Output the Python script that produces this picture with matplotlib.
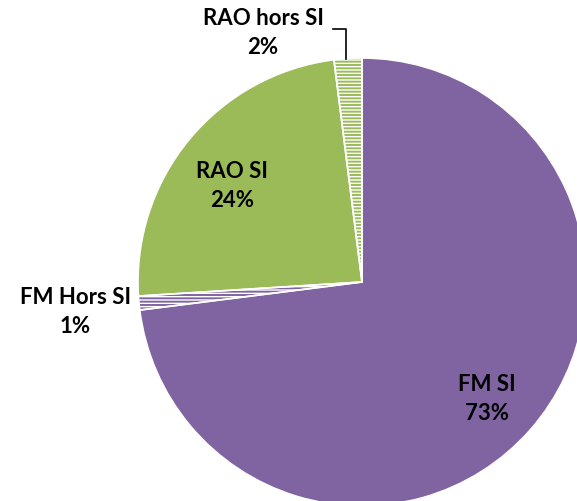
import matplotlib
matplotlib.use("Agg")
import matplotlib.pyplot as plt

# Share of each category (clockwise from 12 o'clock)
categories = ['FM SI', 'FM Hors SI', 'RAO SI', 'RAO hors SI']
shares = [73, 1, 24, 2]
pct_labels = ['73%', '1%', '24%', '2%']

colors = ['#8064A2', '#8064A2', '#9BBB59', '#9BBB59']
hatched = [False, True, False, True]

W, H = 577, 501
# label anchor points in pixel coords (x, y from top)
label_pos = [(487, 399), (75, 312), (232, 186), (263, 33)]

plt.rcParams['font.family'] = ['Lato', 'DejaVu Sans']
plt.rcParams['hatch.linewidth'] = 1.4

fig = plt.figure(figsize=(W / 100, H / 100), dpi=100)
ax = fig.add_axes([0, 0, 1, 1])

center = (362, H - 282)
radius = 224

wedges, _ = ax.pie(shares, colors=colors, startangle=90, counterclock=False,
                   center=center, radius=radius, frame=True,
                   wedgeprops=dict(linewidth=0))
for w, c, h in zip(wedges, colors, hatched):
    if h:
        w.set_facecolor('white')
        w.set_edgecolor(c)
        w.set_hatch('-----')
        w.set_linewidth(0)

# thin white separators on top
ax.pie(shares, colors=['none'] * 4, startangle=90, counterclock=False,
       center=center, radius=radius, frame=True,
       wedgeprops=dict(linewidth=1.2, edgecolor='white', fill=False))
ax.set_xlim(0, W)
ax.set_ylim(0, H)
ax.axis('off')

for name, pct, (x, y) in zip(categories, pct_labels, label_pos):
    ax.text(x, H - y, f'{name}\n{pct}', ha='center', va='center',
            fontsize=16, fontweight='bold', linespacing=1.45, color='black')

# leader line for the small top slice
ax.plot([333, 346, 346], [H - 29, H - 29, H - 59], color='black', lw=1.2)

fig.savefig('out.png', dpi=100)
